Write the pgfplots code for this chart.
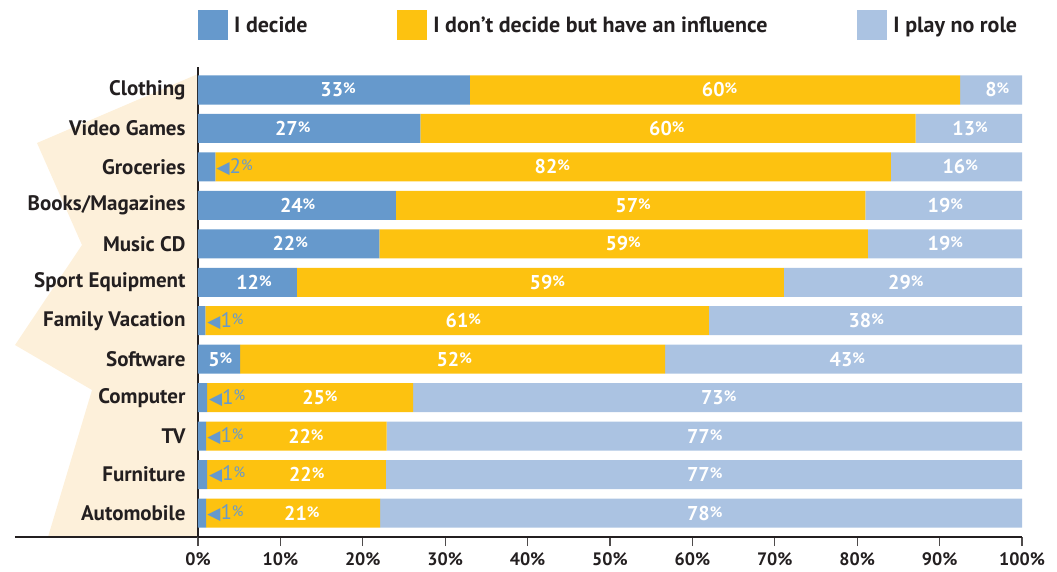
\documentclass[border=0pt]{standalone}
\usepackage{pgfplots}
\pgfplotsset{compat=1.18}
\usepackage{pgfplotstable}
\usepackage{fontspec}
\setmainfont{PT Sans}
\newfontfamily\sym{DejaVu Sans}
\definecolor{cA}{HTML}{6699CC}
\definecolor{cB}{HTML}{FDC210}
\definecolor{cC}{HTML}{ABC3E2}
\definecolor{cream}{HTML}{FDF0DA}
\definecolor{ink}{HTML}{231F20}

\pgfplotstableread{
idx a b c
0 33 59.5 7.5
1 27 60.1 12.9
2 2.1 82 15.9
3 24 57 19
4 22 59.3 18.7
5 12 59.1 28.9
6 0.9 61.1 38
7 5.1 51.6 43.3
8 1.1 25 73.9
9 1 21.9 77.1
10 1.1 21.7 77.2
11 1 21.1 77.9
}\data

\pgfplotstableread{
x y t
17.0 0 33
63.3 0 60
97.0 0 8
11.5 1 27
56.9 1 60
93.7 1 13
43.0 2 82
92.5 2 16
12.1 3 24
52.8 3 57
90.7 3 19
11.2 4 22
51.6 4 59
90.7 4 19
6.8 5 12
42.4 5 59
85.9 5 29
32.2 6 61
81.1 6 38
2.7 7 5
31.1 7 52
78.8 7 43
14.8 8 25
63.2 8 73
13.1 9 22
61.5 9 77
13.2 10 22
61.5 10 77
12.6 11 21
61.5 11 78
}\biglabels

\pgfplotstableread{
x y t
2.1 2 2
1.0 6 1
1.2 8 1
1.0 9 1
1.2 10 1
1.0 11 1
}\smalllabels

\newcommand\pc{\raisebox{0.3ex}{\fontsize{15}{15}\selectfont\%}}

\begin{document}
\begin{tikzpicture}
\useasboundingbox (-198pt,-34pt) rectangle (859pt,537pt);
\fill[cream] (0pt,463pt) -- (-161pt,394pt) -- (-116pt,292pt) -- (-183pt,192pt) -- (-106pt,147pt) -- (-150pt,0pt) -- (0pt,0pt) -- cycle;
\draw[ink, line width=1.2pt] (-183pt,0pt) -- (0pt,0pt);
\pgfplotsset{common/.style={scale only axis, width=824pt, height=470pt,
  xmin=0, xmax=100, ymin=-0.598, ymax=11.624, y dir=reverse,
  at={(0pt,0pt)}, anchor=south west}}
\begin{axis}[common, xbar stacked, bar width=29pt,
  axis x line=bottom, axis y line=left,
  axis line style={-, ink, line width=1.2pt},
  xtick={0,10,...,100},
  xticklabels={0\%,10\%,20\%,30\%,40\%,50\%,60\%,70\%,80\%,90\%,100\%},
  x tick label style={font=\bfseries\fontsize{18}{18}\selectfont, text=ink, yshift=-3pt},
  x tick style={ink!80, line width=1.2pt},
  tick align=outside, major tick length=9pt,
  ytick={0,...,11},
  yticklabels={Clothing,Video Games,Groceries,Books/Magazines,Music CD,Sport Equipment,Family Vacation,Software,Computer,TV,Furniture,Automobile},
  y tick label style={font=\bfseries\fontsize{21}{21}\selectfont, text=ink, anchor=east, xshift=0pt},
  y tick style={draw=none},
  legend style={at={(0,1.089)}, anchor=west, draw=none, fill=none,
    legend columns=3, font=\bfseries\fontsize{22}{22}\selectfont, text=ink,
    /tikz/every even column/.append style={column sep=88pt},
    /tikz/every odd column/.append style={column sep=4pt},
    inner sep=0pt},
  legend image code/.code={\path[#1] (0pt,-15pt) rectangle (30pt,15pt);},
]
\addplot[fill=cA, draw=none] table[x=a, y=idx]{\data};
\addplot[fill=cB, draw=none] table[x=b, y=idx]{\data};
\addplot[fill=cC, draw=none] table[x=c, y=idx]{\data};
\legend{I decide, I don’t decide but have an influence, I play no role}
\end{axis}
\begin{axis}[common, hide axis]
\addplot[only marks, mark=none, point meta=explicit symbolic,
  nodes near coords={\pgfplotspointmeta\pc},
  every node near coord/.append style={anchor=center, text=white, font=\bfseries\fontsize{20}{20}\selectfont}]
  table[x=x, y=y, meta=t]{\biglabels};
\addplot[only marks, mark=none, point meta=explicit symbolic,
  nodes near coords={{\sym\fontsize{17}{17}\selectfont ◀}\pgfplotspointmeta\pc},
  every node near coord/.append style={anchor=west, text=cA, inner xsep=1pt, font=\fontsize{21}{21}\selectfont}]
  table[x=x, y=y, meta=t]{\smalllabels};
\end{axis}
\end{tikzpicture}
\end{document}
